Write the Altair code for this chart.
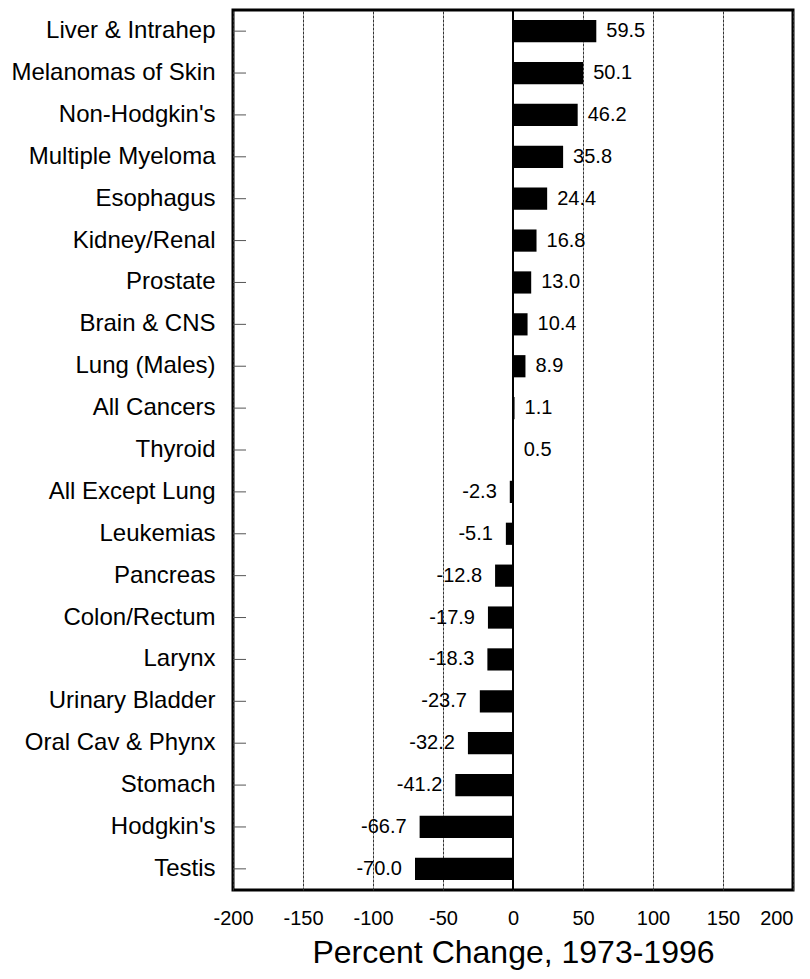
import altair as alt
import pandas as pd

categories = ["Liver & Intrahep", "Melanomas of Skin", "Non-Hodgkin's", "Multiple Myeloma",
              "Esophagus", "Kidney/Renal", "Prostate", "Brain & CNS", "Lung (Males)",
              "All Cancers", "Thyroid", "All Except Lung", "Leukemias", "Pancreas",
              "Colon/Rectum", "Larynx", "Urinary Bladder", "Oral Cav & Phynx", "Stomach",
              "Hodgkin's", "Testis"]
values = [59.5, 50.1, 46.2, 35.8, 24.4, 16.8, 13.0, 10.4, 8.9, 1.1, 0.5,
          -2.3, -5.1, -12.8, -17.9, -18.3, -23.7, -32.2, -41.2, -66.7, -70.0]
x_ticks = [-200, -150, -100, -50, 0, 50, 100, 150, 200]

df = pd.DataFrame({"cat": categories, "val": values})
df["label"] = [f"{v:.1f}" for v in values]

FONT = "Liberation Sans"

xscale = alt.Scale(domain=[-200, 200], nice=False, zero=False)
yenc = alt.Y("cat:N", sort=categories,
             scale=alt.Scale(paddingInner=0.47, paddingOuter=0.24),
             axis=alt.Axis(title=None, ticks=False, domain=False, labelFontSize=24,
                           labelFont=FONT, labelColor="black", labelPadding=18,
                           labelLimit=400))

bars = alt.Chart(df).mark_bar(color="black").encode(
    x=alt.X("val:Q", scale=xscale,
            axis=alt.Axis(values=x_ticks, title="Percent Change, 1973-1996",
                          labelExpr="'' + datum.value",
                          labelAlign=alt.ConditionalAxisLabelAlign(
                              condition={"test": "datum.value == 200", "value": "right"},
                              value="center"),
                          titleFontSize=32, titleFont=FONT, titleFontWeight="normal",
                          titleColor="black", titlePadding=9,
                          labelFontSize=20, labelFont=FONT, labelColor="black",
                          labelPadding=18, ticks=False, domain=False,
                          labelOverlap=False, labelFlush=False,
                          grid=True, gridDash=[3, 1], gridColor="#333333",
                          gridWidth=1, gridOpacity=1)),
    y=yenc,
)

pos = alt.Chart(df[df.val >= 0]).mark_text(align="left", baseline="middle", dx=10,
                                            fontSize=20, font=FONT, color="black").encode(
    x=alt.X("val:Q", scale=xscale), y=alt.Y("cat:N", sort=categories), text="label:N")
neg = alt.Chart(df[df.val < 0]).mark_text(align="right", baseline="middle", dx=-13,
                                           fontSize=20, font=FONT, color="black").encode(
    x=alt.X("val:Q", scale=xscale), y=alt.Y("cat:N", sort=categories), text="label:N")

zero = alt.Chart(pd.DataFrame({"z": [0]})).mark_rule(color="black", strokeWidth=2).encode(
    x=alt.X("z:Q", scale=xscale))

ticks = alt.Chart(df).mark_rule(color="#555555", strokeWidth=1).encode(
    x=alt.value(0), x2=alt.value(13), y=alt.Y("cat:N", sort=categories, bandPosition=0.5))

chart = alt.layer(bars, zero, ticks, pos, neg).properties(
    width=560, height=880,
    autosize=alt.AutoSizeParams(type="none"),
    padding={"left": 225, "top": 2, "right": 9, "bottom": 81},
).configure_view(stroke="black", strokeWidth=3)

chart.save("out.html", embed_options={"renderer": "svg", "actions": False})
